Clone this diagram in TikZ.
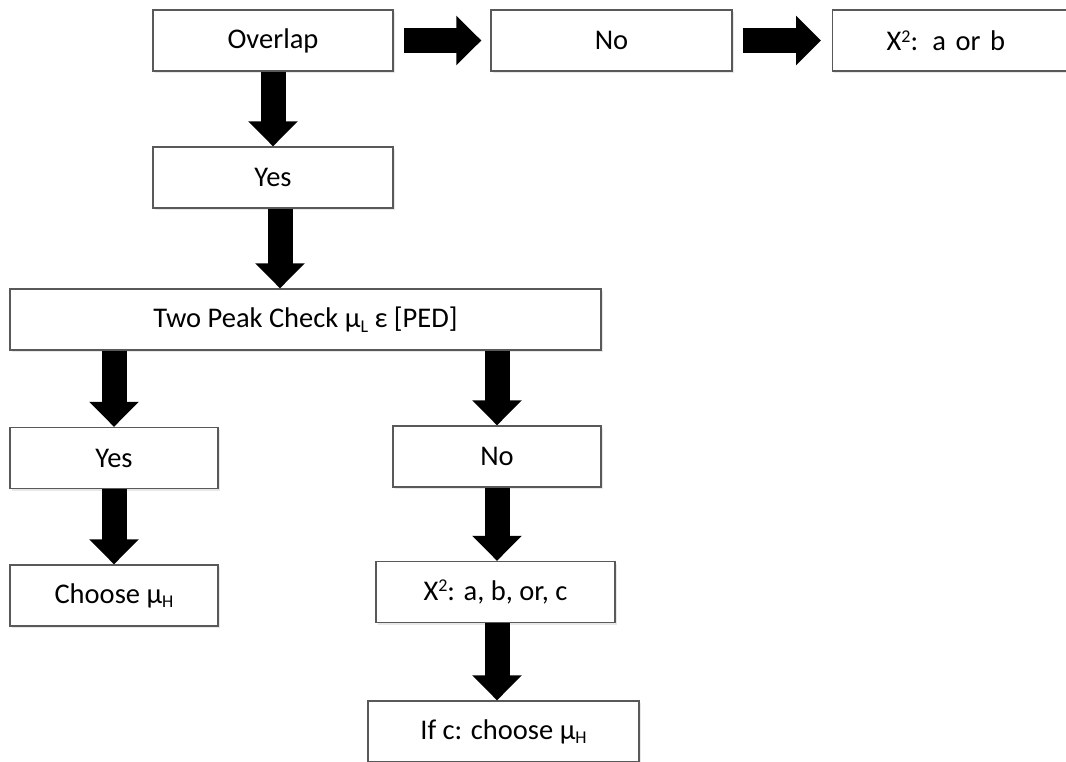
\documentclass[tikz,border=0pt]{standalone}
\usepackage{fontspec}
\setmainfont{Carlito}
\usetikzlibrary{arrows.meta,shadows}

\newcommand{\sub}[1]{\raisebox{-0.35ex}{\fontsize{18}{18}\selectfont #1}}
\newcommand{\sqr}{\raisebox{0.6ex}{\fontsize{18}{18}\selectfont 2}}

\tikzset{
  box/.style={draw=black!65, line width=1.3pt, fill=white, minimum height=61pt,
    inner sep=0pt, font=\fontsize{28.5}{34}\selectfont,
    drop shadow={opacity=0.18, shadow xshift=1.5pt, shadow yshift=-2pt}},
  bigarrow/.style={line width=25pt, -{Triangle[width=48pt,length=25pt]}},
}

\begin{document}
\begin{tikzpicture}[x=1pt,y=-1pt]
    \useasboundingbox (0,0) rectangle (1066,761);

    % Top row
    \node[box, minimum width=240pt] (overlap) at (273,40.5) {Overlap};
    \node[box, minimum width=241pt] (notop) at (611.5,40.5) {No};
    \node[box, minimum width=241pt, anchor=west, text width=133pt,
      inner xsep=54pt, align=left] (chiab) at (832,40.5) {X\sqr: a or b};

    % Left column
    \node[box, minimum width=240pt] (yestop) at (273,177.5) {Yes};
    \node[box, minimum width=591pt] (peak) at (305.5,319.5)
      {Two Peak Check μ\sub{L} ε [PED]};
    \node[box, minimum width=208pt] (yesleft) at (114,458) {Yes};
    \node[box, minimum width=208pt] (choose) at (114,595.5) {Choose μ\sub{H}};

    % Right column
    \node[box, minimum width=208pt] (nomid) at (497,456.5) {No};
    \node[box, minimum width=239pt] (chiabc) at (495.5,592) {X\sqr: a, b, or, c};
    \node[box, minimum width=271pt] (ifc) at (503.5,731.5) {If c: choose μ\sub{H}};

    % Arrows
    \draw[bigarrow] ([xshift=10pt]overlap.east) -- ([xshift=-9pt]notop.west);
    \draw[bigarrow] ([xshift=10pt]notop.east) -- ([xshift=-11pt]chiab.west);
    \draw[bigarrow] (overlap.south) -- (yestop.north);
    \draw[bigarrow] ([xshift=7pt]yestop.south) -- ([xshift=7pt]yestop.south |- peak.north);
    \draw[bigarrow] (peak.south -| yesleft.north) -- (yesleft.north);
    \draw[bigarrow] (peak.south -| nomid.north) -- (nomid.north);
    \draw[bigarrow] (yesleft.south) -- (choose.north);
    \draw[bigarrow] (nomid.south) -- (nomid.south |- chiabc.north);
    \draw[bigarrow] (nomid.south |- chiabc.south) -- (nomid.south |- ifc.north);
\end{tikzpicture}
\end{document}
